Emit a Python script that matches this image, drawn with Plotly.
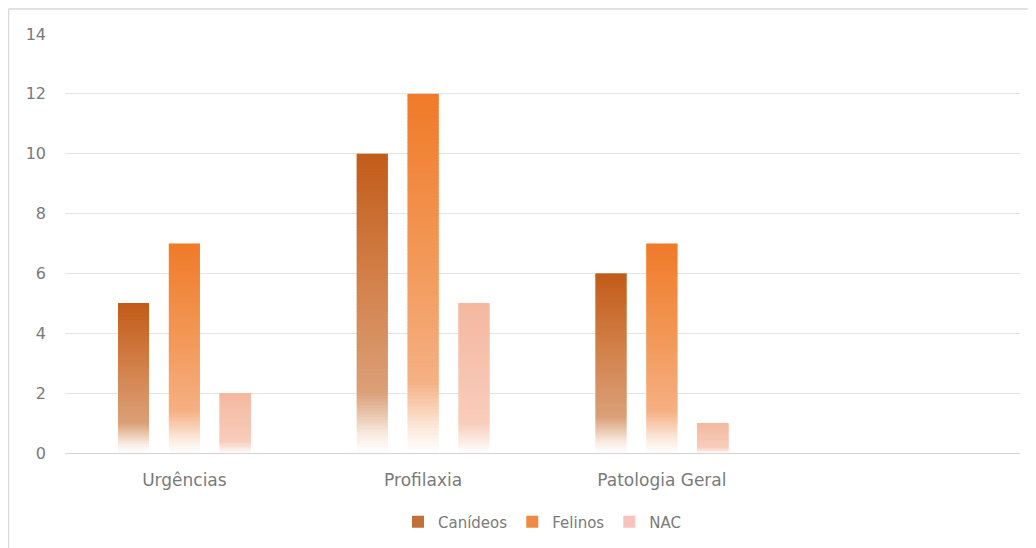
import plotly.graph_objects as go

categories = ["Urgências", "Profilaxia", "Patologia Geral"]
series_names = ["Canídeos", "Felinos", "NAC"]
canideos = [5, 10, 6]
felinos = [7, 12, 7]
nac = [2, 5, 1]
y_ticks = [0, 2, 4, 6, 8, 10, 12, 14]

series_values = [canideos, felinos, nac]

# gradient stops (t from bottom 0 to top 1)
gradients = [
    [(0.0, "#ffffff"), (0.06, "#f8ece2"), (0.2, "#dba078"), (0.55, "#d3834d"), (1.0, "#c25c19")],
    [(0.0, "#ffffff"), (0.06, "#fcede2"), (0.2, "#f5b083"), (0.55, "#f29857"), (1.0, "#f07a28")],
    [(0.0, "#ffffff"), (0.06, "#fdf0ea"), (0.2, "#f8cdbb"), (0.55, "#f6c4b0"), (1.0, "#f4b8a0")],
]
legend_colors = ["#c2703a", "#ee8a45", "#f6c3bd"]


def hex2rgb(h):
    h = h.lstrip("#")
    return tuple(int(h[i:i + 2], 16) for i in (0, 2, 4))


def color_at(stops, t):
    for (t0, c0), (t1, c1) in zip(stops[:-1], stops[1:]):
        if t0 <= t <= t1:
            f = (t - t0) / (t1 - t0) if t1 > t0 else 0
            a, b = hex2rgb(c0), hex2rgb(c1)
            r = [round(a[i] + (b[i] - a[i]) * f) for i in range(3)]
            return "rgb(%d,%d,%d)" % tuple(r)
    return stops[-1][1]


N = 100
bar_w = 0.13
centers = [-0.213, 0.0, 0.213]
xs = list(range(len(categories)))

fig = go.Figure()
for s, (name, vals) in enumerate(zip(series_names, series_values)):
    for k in range(N):
        t = (k + 0.5) / N
        bases = [v * k / N for v in vals]
        if k < N - 1:
            heights = [v / N * 1.8 for v in vals]
        else:
            heights = [v / N for v in vals]
        fig.add_trace(go.Bar(
            x=xs, y=heights, base=bases,
            width=bar_w, offset=centers[s] - bar_w / 2,
            marker=dict(color=color_at(gradients[s], t), line=dict(width=0)),
            showlegend=False, hoverinfo="skip",
            legendgroup=name,
        ))
    # legend entry
    fig.add_trace(go.Bar(
        x=[None], y=[None], name=name,
        marker=dict(color=legend_colors[s], line=dict(width=0)),
        legendgroup=name, showlegend=True,
    ))

font_color = "#7a7a7a"
L, T, R, B = 57, 26, 24, 103
W, H = 1036, 548
pw, ph = W - L - R, H - T - B

fig.update_layout(
    width=W, height=H,
    barmode="overlay",
    paper_bgcolor="white", plot_bgcolor="white",
    margin=dict(l=L, r=R, t=T, b=B),
    font=dict(family="DejaVu Sans", size=16, color=font_color),
    showlegend=True,
    legend=dict(orientation="h", x=0.5, xanchor="center", y=-69 / ph, yanchor="middle",
                font=dict(size=15, color=font_color), itemwidth=30,
                traceorder="normal"),
    xaxis=dict(range=[-0.5, 3.5], tickvals=xs, ticktext=categories,
               showgrid=False, zeroline=False, showline=False,
               ticks="", ticklabelstandoff=15,
               tickfont=dict(size=17, color=font_color)),
    yaxis=dict(range=[0, 14], tickvals=y_ticks, showgrid=True,
               gridcolor="#e3e3e3", gridwidth=1,
               zeroline=True, zerolinecolor="#d4d4d4", zerolinewidth=1,
               showline=False, ticks="", ticklabelstandoff=18,
               tickfont=dict(size=16, color=font_color)),
    shapes=[
        dict(type="line", xref="paper", yref="paper", x0=-(L - 0.5) / pw, x1=-(L - 0.5) / pw,
             y0=-(B + 10) / ph, y1=(ph + T - 1) / ph,
             line=dict(color="#d9d9d9", width=1.5)),
        dict(type="line", xref="paper", yref="paper", x0=-(L - 0.5) / pw, x1=(pw + R + 10) / pw,
             y0=(ph + T - 1) / ph, y1=(ph + T - 1) / ph,
             line=dict(color="#d9d9d9", width=1.5)),
    ],
)

fig.write_html("out.html")
